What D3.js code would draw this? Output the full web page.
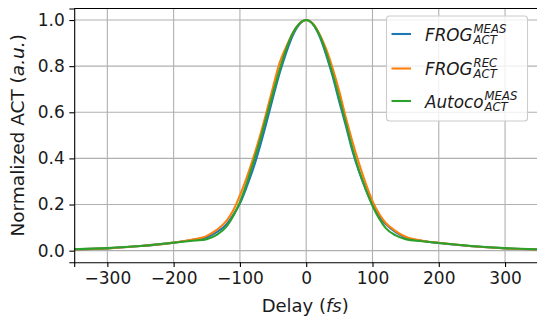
<!DOCTYPE html>
<html><head><meta charset="utf-8">
<script src="https://cdn.jsdelivr.net/npm/d3@7"></script>
<style>body{margin:0;background:#fff}svg{display:block;font-family:"DejaVu Sans",sans-serif}</style>
</head><body><svg id="c" width="537" height="322"></svg>
<script>
const delays = [-350,-300,-250,-200,-175,-150,-135,-120,-110,-100,-90,-80,-70,-60,-50,-40,-30,-20,-10,0,10,20,30,40,50,60,70,80,90,100,110,120,135,150,175,200,250,300,350];
const frogMeas = [0.005,0.01,0.02,0.035,0.045,0.058,0.08,0.115,0.155,0.205,0.275,0.355,0.45,0.555,0.665,0.77,0.86,0.935,0.983,1.0,0.982,0.93,0.85,0.755,0.645,0.54,0.43,0.34,0.265,0.2,0.15,0.115,0.08,0.056,0.042,0.033,0.019,0.01,0.005];
const frogRec = [0.005,0.01,0.02,0.035,0.046,0.064,0.09,0.13,0.175,0.24,0.315,0.4,0.495,0.6,0.71,0.815,0.885,0.945,0.985,1.0,0.985,0.94,0.875,0.79,0.69,0.575,0.47,0.375,0.29,0.215,0.16,0.12,0.085,0.06,0.043,0.034,0.019,0.01,0.005];
const autoMeas = [0.006,0.011,0.02,0.034,0.042,0.05,0.068,0.105,0.15,0.21,0.29,0.38,0.475,0.58,0.685,0.785,0.875,0.945,0.985,1.0,0.983,0.935,0.86,0.765,0.66,0.55,0.44,0.345,0.265,0.195,0.14,0.098,0.066,0.05,0.041,0.033,0.02,0.011,0.006];
const xTicks = [-300,-200,-100,0,100,200,300];
const yTicks = [0.0,0.2,0.4,0.6,0.8,1.0];
const seriesNames = [["FROG","MEAS","ACT"],["FROG","REC","ACT"],["Autoco","MEAS","ACT"]];
const colors = ["#1f77b4","#ff7f0e","#2ca02c"];

const svg = d3.select("#c");
const L = 74.2, R = 538.2, T = 8.5, B = 262.2;
const x = d3.scaleLinear().domain([-350,350]).range([L,R]);
const y = d3.scaleLinear().domain([-0.05,1.05]).range([B,T]);

// grid
const g = svg.append("g");
g.selectAll(".gx").data(xTicks).enter().append("line")
  .attr("x1",d=>x(d)).attr("x2",d=>x(d)).attr("y1",T).attr("y2",B)
  .attr("stroke","#b0b0b0").attr("stroke-width",1.1);
g.selectAll(".gy").data(yTicks).enter().append("line")
  .attr("x1",L).attr("x2",R).attr("y1",d=>y(d)).attr("y2",d=>y(d))
  .attr("stroke","#b0b0b0").attr("stroke-width",1.1);

// lines
const line = d3.line().x(d=>x(d[0])).y(d=>y(d[1])).curve(d3.curveMonotoneX);
[frogMeas,frogRec,autoMeas].forEach((s,i)=>{
  svg.append("path").datum(delays.map((d,k)=>[d,s[k]]))
    .attr("d",line).attr("fill","none").attr("stroke",colors[i]).attr("stroke-width",2.1);
});

// axes
const xa = svg.append("g").attr("transform",`translate(0,${B})`)
  .call(d3.axisBottom(x).tickValues(xTicks).tickSize(4.9).tickPadding(4.5).tickFormat(d=>d<0?"\u2212"+Math.abs(d):d));
const ya = svg.append("g").attr("transform",`translate(${L},0)`)
  .call(d3.axisLeft(y).tickValues(yTicks).tickSize(4.9).tickPadding(4.5).tickFormat(d3.format(".1f")));
[xa,ya].forEach(a=>{
  a.selectAll("text").attr("font-size",17).attr("fill","#1a1a1a").attr("font-family","DejaVu Sans");
  a.selectAll("line").attr("stroke","#000").attr("stroke-width",1.1);
  a.select(".domain").attr("stroke","#000").attr("stroke-width",1.1);
});
// top/right spine
svg.append("line").attr("x1",L).attr("x2",R).attr("y1",T).attr("y2",T).attr("stroke","#000").attr("stroke-width",1.1);
svg.append("line").attr("x1",R).attr("x2",R).attr("y1",T).attr("y2",B).attr("stroke","#000").attr("stroke-width",1.1);

// labels
const xl = svg.append("text").attr("x",(L+R)/2-1).attr("y",311.5).attr("text-anchor","middle").attr("font-size",18).attr("fill","#1a1a1a");
xl.append("tspan").text("Delay (");
xl.append("tspan").attr("font-style","italic").text("fs");
xl.append("tspan").text(")");
const yl = svg.append("text").attr("transform",`translate(24,${(T+B)/2}) rotate(-90)`).attr("text-anchor","middle").attr("font-size",18.5).attr("fill","#1a1a1a");
yl.append("tspan").text("Normalized ACT (");
yl.append("tspan").attr("font-style","italic").text("a.u.");
yl.append("tspan").text(")");

// legend
const lg = svg.append("g");
lg.append("rect").attr("x",386.5).attr("y",16).attr("width",141).attr("height",105).attr("rx",3)
  .attr("fill","#fff").attr("fill-opacity",0.8).attr("stroke","#cccccc").attr("stroke-width",1.1);
const rowY = [34,68.5,101];
seriesNames.forEach((n,i)=>{
  const yy = rowY[i];
  lg.append("line").attr("x1",391.5).attr("x2",411).attr("y1",yy).attr("y2",yy).attr("stroke",colors[i]).attr("stroke-width",2.1);
  const row = lg.append("text").attr("x",425).attr("y",yy+6.5).attr("font-size",16.8).attr("font-style","italic").attr("fill","#1a1a1a");
  row.append("tspan").text(n[0]);
  row.append("tspan").attr("dx",1).attr("dy",-8).attr("font-size",11.7).text(n[1]);
  const w = row.node().getSubStringLength(0, n[0].length);
  lg.append("text").attr("x",425+w+1).attr("y",yy+9.5).attr("font-size",11.7).attr("font-style","italic").attr("fill","#1a1a1a").text(n[2]);
});
</script></body></html>
